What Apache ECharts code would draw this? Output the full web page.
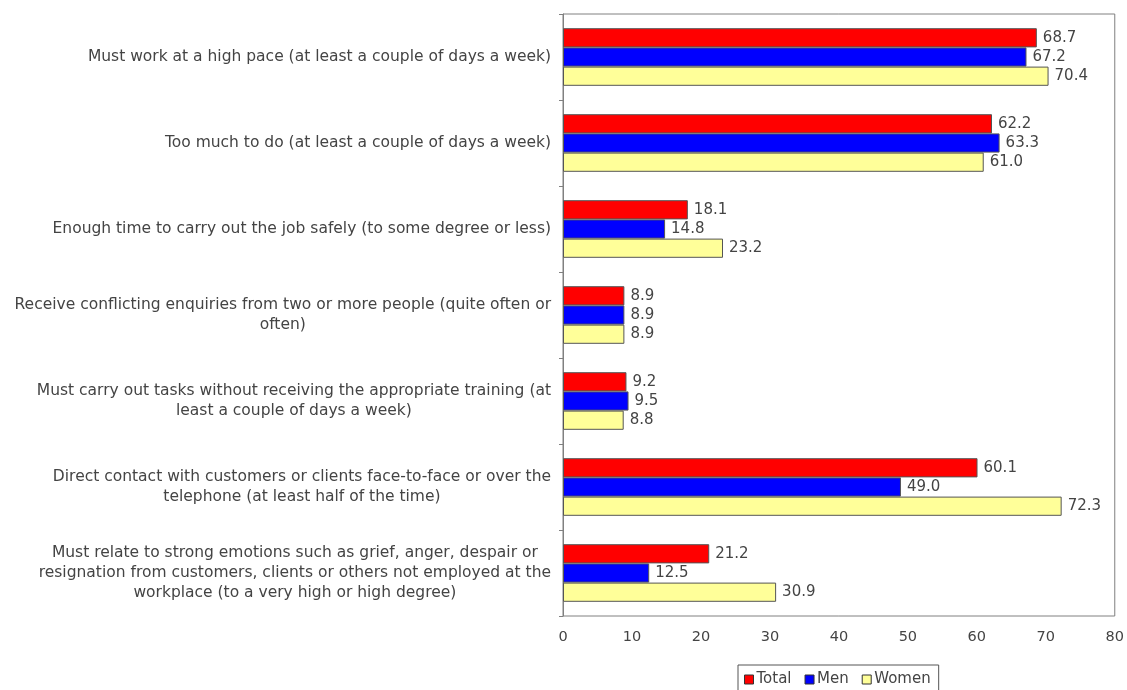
<!DOCTYPE html>
<html>
<head>
<meta charset="utf-8">
<script src="https://cdn.jsdelivr.net/npm/echarts@6/dist/echarts.min.js"></script>
<style>html,body{margin:0;padding:0;background:#fff}#c{width:1127px;height:690px}</style>
</head>
<body>
<div id="c"></div>
<script>
const categories = [
  "Must work at a high pace (at least a couple of days a week)",
  "Too much to do (at least a couple of days a week)",
  "Enough time to carry out the job safely (to some degree or less)",
  "Receive conflicting enquiries from two or more people (quite often or\noften)",
  "Must carry out tasks without receiving the appropriate training (at\nleast a couple of days a week)",
  "Direct contact with customers or clients face-to-face or over the\ntelephone (at least half of the time)",
  "Must relate to strong emotions such as grief, anger, despair or\nresignation from customers, clients or others not employed at the\nworkplace (to a very high or high degree)"
];
const seriesNames = ["Total", "Men", "Women"];
const totalValues = [68.7, 62.2, 18.1, 8.9, 9.2, 60.1, 21.2];
const menValues = [67.2, 63.3, 14.8, 8.9, 9.5, 49.0, 12.5];
const womenValues = [70.4, 61.0, 23.2, 8.9, 8.8, 72.3, 30.9];
const xTicks = [0, 10, 20, 30, 40, 50, 60, 70, 80];

const colors = ["#ff0000", "#0000ff", "#ffff99"];
const FONT = "DejaVu Sans";

function mkSeries(name, data, color) {
  return {
    name: name, type: "bar", data: data,
    barGap: 0, barCategoryGap: "33%",
    itemStyle: { color: color, borderColor: "#555", borderWidth: 1 },
    label: {
      show: true, position: "right", distance: 6,
      formatter: p => p.value.toFixed(1),
      color: "#444", fontFamily: FONT, fontSize: 15
    }
  };
}

const chart = echarts.init(document.getElementById("c"));
chart.setOption({
  animation: false,
  backgroundColor: "#fff",
  color: colors,
  grid: { left: 563, right: 10, top: 14, bottom: 74, show: true, borderColor: "#808080", borderWidth: 1 },
  xAxis: {
    type: "value", min: xTicks[0], max: xTicks[xTicks.length - 1], interval: 10,
    axisLine: { show: false }, axisTick: { show: false }, splitLine: { show: false },
    axisLabel: { color: "#444", fontFamily: FONT, fontSize: 14.5, margin: 14 }
  },
  yAxis: {
    type: "category", data: categories, inverse: true,
    axisLine: { show: true, lineStyle: { color: "#808080" } },
    axisTick: { show: true, length: 4, lineStyle: { color: "#808080" } },
    axisLabel: {
      margin: 12,
      formatter: v => v.split("\n").map(l => "{c|" + l + "}").join("\n"),
      rich: { c: { align: "center", color: "#444", fontFamily: FONT, fontSize: 15.5, lineHeight: 20 } }
    }
  },
  legend: {
    top: 665, left: 738, data: seriesNames,
    icon: "rect", itemWidth: 9, itemHeight: 9, itemGap: 13,
    borderColor: "#555", borderWidth: 1, padding: [7, 8, 10, 6], borderRadius: 0,
    textStyle: { color: "#444", fontFamily: FONT, fontSize: 15, padding: [0, 0, 0, -2] },
    itemStyle: { borderColor: "#333", borderWidth: 1 }
  },
  series: [
    mkSeries(seriesNames[0], totalValues, colors[0]),
    mkSeries(seriesNames[1], menValues, colors[1]),
    mkSeries(seriesNames[2], womenValues, colors[2])
  ]
});
</script>
</body>
</html>
